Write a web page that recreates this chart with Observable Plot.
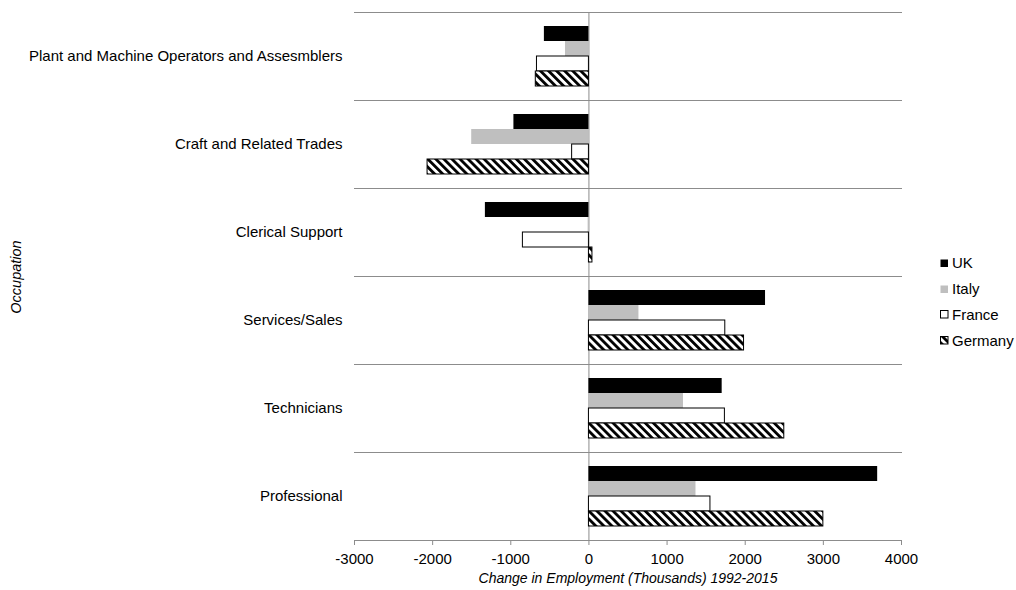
<!DOCTYPE html>
<html><head><meta charset="utf-8">
<script src="https://cdn.jsdelivr.net/npm/d3@7"></script>
<script src="https://cdn.jsdelivr.net/npm/@observablehq/plot@0.6"></script>
<style>
body{margin:0;background:#fff;font-family:"Liberation Sans",Arial,sans-serif;}
#wrap{position:relative;width:1016px;height:590px;overflow:hidden;}
.ytitle{position:absolute;left:16px;top:277px;transform:translate(-50%,-50%) rotate(-90deg);font-style:italic;font-size:14.5px;white-space:nowrap;}
.xtitle{position:absolute;left:628px;top:578px;transform:translate(-50%,-50%);font-style:italic;font-size:14px;white-space:nowrap;}
.legrow{position:absolute;left:940px;height:18px;font-size:15px;line-height:18px;display:flex;align-items:center;white-space:nowrap;}
.legrow svg{margin-right:3px;}
</style></head><body><div id="wrap"></div>
<script>
const occupations = ["Plant and Machine Operators and Assesmblers","Craft and Related Trades","Clerical Support","Services/Sales","Technicians","Professional"];
const countries = ["UK","Italy","France","Germany"];
const uk      = [-570, -960, -1325, 2260, 1705, 3695];
const italy   = [-300, -1500, -10, 640, 1210, 1370];
const france  = [-665, -215, -845, 1745, 1740, 1555];
const germany = [-680, -2065, 45, 1985, 2500, 3000];
const xTicks  = [-3000,-2000,-1000,0,1000,2000,3000,4000];

const series = [uk, italy, france, germany];
const table = [];
occupations.forEach((o,i)=>countries.forEach((c,j)=>table.push({occ:o, country:c, value:series[j][i]})));

const styles = {
  UK:{fill:"#000000", stroke:"none"},
  Italy:{fill:"#bfbfbf", stroke:"none"},
  France:{fill:"#ffffff", stroke:"#000000"},
  Germany:{fill:"url(#hatch)", stroke:"#000000"}
};
const grid = "#8c8c8c";

const chart = Plot.plot({
  width:1016, height:590,
  marginLeft:354, marginRight:115, marginTop:12, marginBottom:50,
  style:{fontFamily:'"Liberation Sans",Arial,sans-serif', fontSize:"15px", color:"#000", background:"#fff", overflow:"visible"},
  facet:{data:table, y:"occ"},
  fy:{domain:occupations, padding:0, label:null, tickSize:0, tickPadding:12, axis:"left"},
  y:{domain:countries, paddingInner:0, paddingOuter:0.8, axis:null},
  x:{domain:[-3000,4000], ticks:xTicks, tickFormat:d=>String(d), tickSize:5, tickPadding:8, label:null},
  marks:[
    Plot.frame({anchor:"top", stroke:grid}),
    Plot.frame({anchor:"bottom", stroke:grid}),
    Plot.ruleX([0], {stroke:grid}),
    ...countries.map(c=>Plot.barX(table, {filter:d=>d.country===c, x:"value", y:"country",
        fill:styles[c].fill, stroke:styles[c].stroke, strokeWidth:1}))
  ]
});

const svg = d3.select(chart.tagName.toLowerCase()==="svg" ? chart : chart.querySelector("svg"));
function addHatch(sel, id){
  const p = sel.insert("defs", ":first-child").append("pattern")
    .attr("id", id).attr("patternUnits","userSpaceOnUse")
    .attr("width",5.7).attr("height",5.7).attr("patternTransform","rotate(-45)");
  p.append("rect").attr("width",5.7).attr("height",5.7).attr("fill","#fff");
  p.append("rect").attr("width",2.8).attr("height",5.7).attr("fill","#000");
}
addHatch(svg, "hatch");
svg.selectAll('g[aria-label^="x-axis"] line, g[aria-label="x-axis tick"] path').attr("stroke", grid);

const wrap = document.getElementById("wrap");
wrap.appendChild(chart);

const yt = document.createElement("div"); yt.className="ytitle"; yt.textContent="Occupation"; wrap.appendChild(yt);
const xt = document.createElement("div"); xt.className="xtitle"; xt.textContent="Change in Employment (Thousands) 1992-2015"; wrap.appendChild(xt);

const legCenters = [263, 289, 314.5, 340.5];
countries.forEach((c,i)=>{
  const row = document.createElement("div");
  row.className = "legrow";
  row.style.top = (legCenters[i]-9)+"px";
  const s = d3.create("svg").attr("width",9).attr("height",9);
  if (c==="Germany") addHatch(s, "hatchLeg");
  s.append("rect").attr("x",0.5).attr("y",0.5).attr("width",7.5).attr("height",7.5)
    .attr("fill", c==="Germany" ? "url(#hatchLeg)" : styles[c].fill)
    .attr("stroke", styles[c].stroke==="none" ? "none" : "#000");
  row.appendChild(s.node());
  const t = document.createElement("span"); t.textContent=c; row.appendChild(t);
  wrap.appendChild(row);
});
</script></body></html>
